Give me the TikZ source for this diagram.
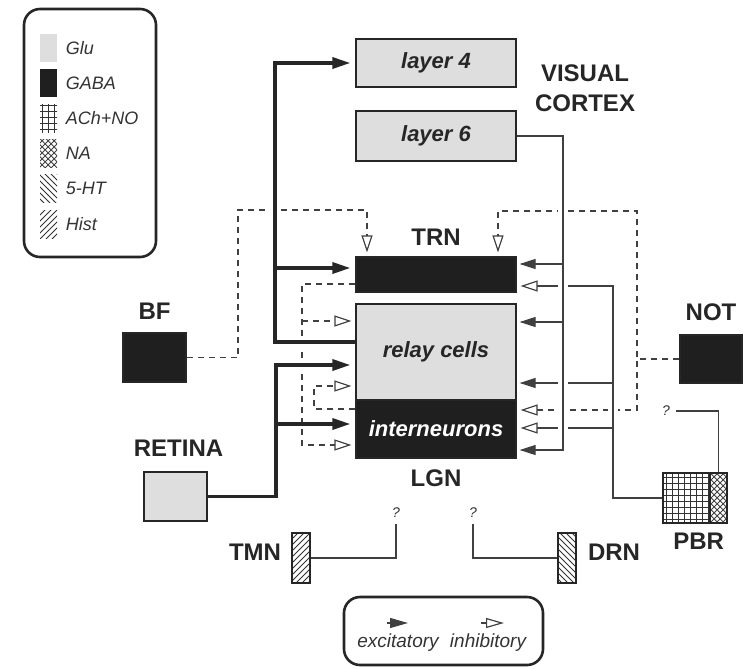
\documentclass[tikz,border=0pt]{standalone}
\usepackage{fontspec}
\setmainfont{Liberation Sans}
\usetikzlibrary{arrows.meta,positioning,patterns,backgrounds}

\begin{document}
\begin{tikzpicture}[
    x=0.5pt, y=-0.5pt,
    glu/.style={fill=black!13},
    gaba/.style={fill=black!88},
    ach/.style={pattern=grid, pattern color=black!80},
    na/.style={pattern=crosshatch, pattern color=black!75},
    sht/.style={pattern=north west lines, pattern color=black!80},
    hist/.style={pattern=north east lines, pattern color=black!80},
    area/.style={draw=black!85, line width=0.6pt, inner sep=0pt, font=\bfseries\itshape\fontsize{11}{13}\selectfont, text=black!85},
    lbl/.style={font=\bfseries\fontsize{12}{15}\selectfont, inner sep=0pt, text=black!85},
    q/.style={font=\itshape\fontsize{7}{8}\selectfont, inner sep=3pt, text=black!80},
    swatch/.style={minimum width=8.5pt, minimum height=14pt, inner sep=0pt},
    key/.style={font=\itshape\fontsize{9}{11}\selectfont, text=black!80, inner sep=0pt, anchor=west},
    box/.style={draw=black!85, line width=1.3pt, rounded corners=8pt},
    tract/.style={line width=1.7pt, draw=black!85, -{Triangle[length=9pt,width=5.5pt]}, shorten >=2.5pt},
    fibre/.style={line width=0.6pt, draw=black!75},
    exc/.style={fibre, -{Triangle[length=8pt,width=5pt]}, shorten >=1.5pt},
    inh/.style={fibre, -{Triangle[open,length=8.5pt,width=5.5pt,fill=white]}, shorten >=2pt},
    mod/.style={dash pattern=on 3pt off 2.5pt},
    over/.style={preaction={draw=white, line width=5pt, arrows=-}}
]
    \useasboundingbox (0,0) rectangle (744,669);

    % --- Visual cortex ---
    \node[area, glu, minimum width=80pt, minimum height=24pt] (layer4) at (436,63) {layer 4};
    \node[area, glu, minimum width=80pt, minimum height=25pt] (layer6) at (436,136) {layer 6};
    \node[lbl, align=center] (cortex) at (585,88) {VISUAL\\CORTEX};

    % --- Thalamus ---
    \node[area, gaba, minimum width=80pt, minimum height=17.5pt] (trn) at (436,274.5) {};
    \node[area, glu, minimum width=80pt, minimum height=48pt] (relay) at (436,352) {relay cells};
    \node[area, gaba, minimum width=80pt, minimum height=29pt, text=white] (inter) at (436,429) {interneurons};
    \node[lbl, above=5.5pt of trn] {TRN};
    \node[lbl, below=5.5pt of inter] {LGN};

    % --- Inputs ---
    \node[area, gaba, minimum width=31.5pt, minimum height=24.5pt] (bf) at (154.5,357.5) {};
    \node[area, glu, minimum width=31.5pt, minimum height=24.5pt] (retina) at (175.5,496.5) {};
    \node[area, gaba, minimum width=31pt, minimum height=24pt] (not) at (711,359) {};
    \node[area, ach, minimum width=23.5pt, minimum height=25pt] (pbrach) at (686.5,498) {};
    \node[area, na, minimum width=8.5pt, minimum height=25pt] (pbrna) at (718.5,498) {};
    \node[area, hist, minimum width=9pt, minimum height=25pt] (tmn) at (301,558) {};
    \node[area, sht, minimum width=9pt, minimum height=25pt] (drn) at (567,558) {};

    \node[lbl, above=6.5pt of bf] {BF};
    \node[lbl, above=7.5pt of retina, xshift=1.5pt] {RETINA};
    \node[lbl, above=6.5pt of not] {NOT};
    \node[lbl, below=4.5pt of pbrach.south east, xshift=-6pt] {PBR};
    \node[lbl, left=5pt of tmn, yshift=3pt] {TMN};
    \node[lbl, right=5.5pt of drn, yshift=3pt] {DRN};

    \node[q] (qtmn) at (396,513) {?};
    \node[q] (qdrn) at (473,513) {?};
    \node[q] (qpbr) at (666,411) {?};

    \begin{scope}[on background layer]
        % basal forebrain
        \coordinate (bfc) at (238,210);
        \coordinate (bftrn) at (367,210);
        \draw[inh, mod] (bf.east) -| (bfc) -- (bftrn) -- (bftrn |- trn.north);

        % pretectum
        \coordinate (ntop) at (637,211);
        \coordinate (ntrn) at (498,211);
        \coordinate (nint) at (637,410);
        \draw[inh, mod] (not.west) -| (ntop) -- (ntrn) -- (ntrn |- trn.north);
        \draw[inh, mod] (not.west) -| (nint) -- (nint -| inter.east);

        % TRN output
        \coordinate (tl) at (302,284);
        \coordinate (tlrel) at (302,321);
        \coordinate (tlint) at (302,445);
        \draw[inh, mod] (tl -| trn.west) -- (tl) -- (tlint) -- (tlint -| inter.west);
        \draw[inh, mod] (tlrel) -- (tlrel -| relay.west);

        % interneurons to relay cells
        \coordinate (ir) at (314,409);
        \coordinate (irrel) at (314,386);
        \draw[inh, mod] (ir -| inter.west) -- (ir) -- (irrel) -- (irrel -| relay.west);

        % brainstem cholinergic
        \coordinate (pbtrn) at (613,286);
        \coordinate (pbrel) at (613,383);
        \coordinate (pbint) at (613,428);
        \draw[inh, over] (pbrach.west) -| (pbtrn) -- (pbtrn -| trn.east);
        \draw[exc] (pbrel) -- (pbrel -| relay.east);
        \draw[inh] (pbint) -- (pbint -| inter.east);

        % corticothalamic
        \coordinate (l6int) at (563,450);
        \coordinate (l6trn) at (563,264);
        \coordinate (l6rel) at (563,322);
        \draw[exc, over] (layer6.east) -| (l6int) -- (l6int -| inter.east);
        \draw[exc] (l6trn) -- (l6trn -| trn.east);
        \draw[exc] (l6rel) -- (l6rel -| relay.east);

        % thalamocortical
        \coordinate (rc) at (275,342);
        \coordinate (rctrn) at (275,268);
        \draw[tract, over] (rc -| relay.west) -- (rc) |- (layer4.west);
        \draw[tract] (rctrn) -- (rctrn -| trn.west);

        % retinal input
        \coordinate (rt) at (276,365);
        \coordinate (rtint) at (276,424);
        \draw[tract, over] (retina.east) -| (rt) -- (rt -| relay.west);
        \draw[tract] (rtint) -- (rtint -| inter.west);

        % unknown targets
        \draw[fibre] (tmn.east) -| (qtmn.south);
        \draw[fibre] (drn.west) -| (qdrn.south);
        \draw[fibre] (qpbr.east) -| (pbrna.north);
    \end{scope}

    % --- Transmitter key ---
    \draw[box] (24,9) rectangle (156,257);
    \foreach \sty/\txt [count=\i] in {glu/Glu, gaba/GABA, ach/ACh+NO, na/NA, sht/5-HT, hist/Hist}{
        \node[swatch, \sty] (sw\i) at (48.5,{48+35.2*(\i-1)}) {};
        \node[key, right=4pt of sw\i] {\txt};
    }

    % --- Synapse key ---
    \draw[box] (344,597) rectangle (543,665);
    \node[key, anchor=center, font=\itshape\fontsize{9.5}{11}\selectfont] (excite) at (398,643) {excitatory};
    \node[key, anchor=center, font=\itshape\fontsize{9.5}{11}\selectfont] (inhibit) at (488,643) {inhibitory};
    \coordinate (ea) at (387,623);
    \coordinate (eb) at (408,623);
    \coordinate (ia) at (481,623);
    \coordinate (ib) at (504,623);
    \draw[exc, shorten >=0pt, -{Triangle[length=9pt,width=5pt]}] (ea) -- (eb);
    \draw[inh, shorten >=0pt, -{Triangle[open,length=9pt,width=5pt,fill=white]}] (ia) -- (ib);

\end{tikzpicture}
\end{document}
